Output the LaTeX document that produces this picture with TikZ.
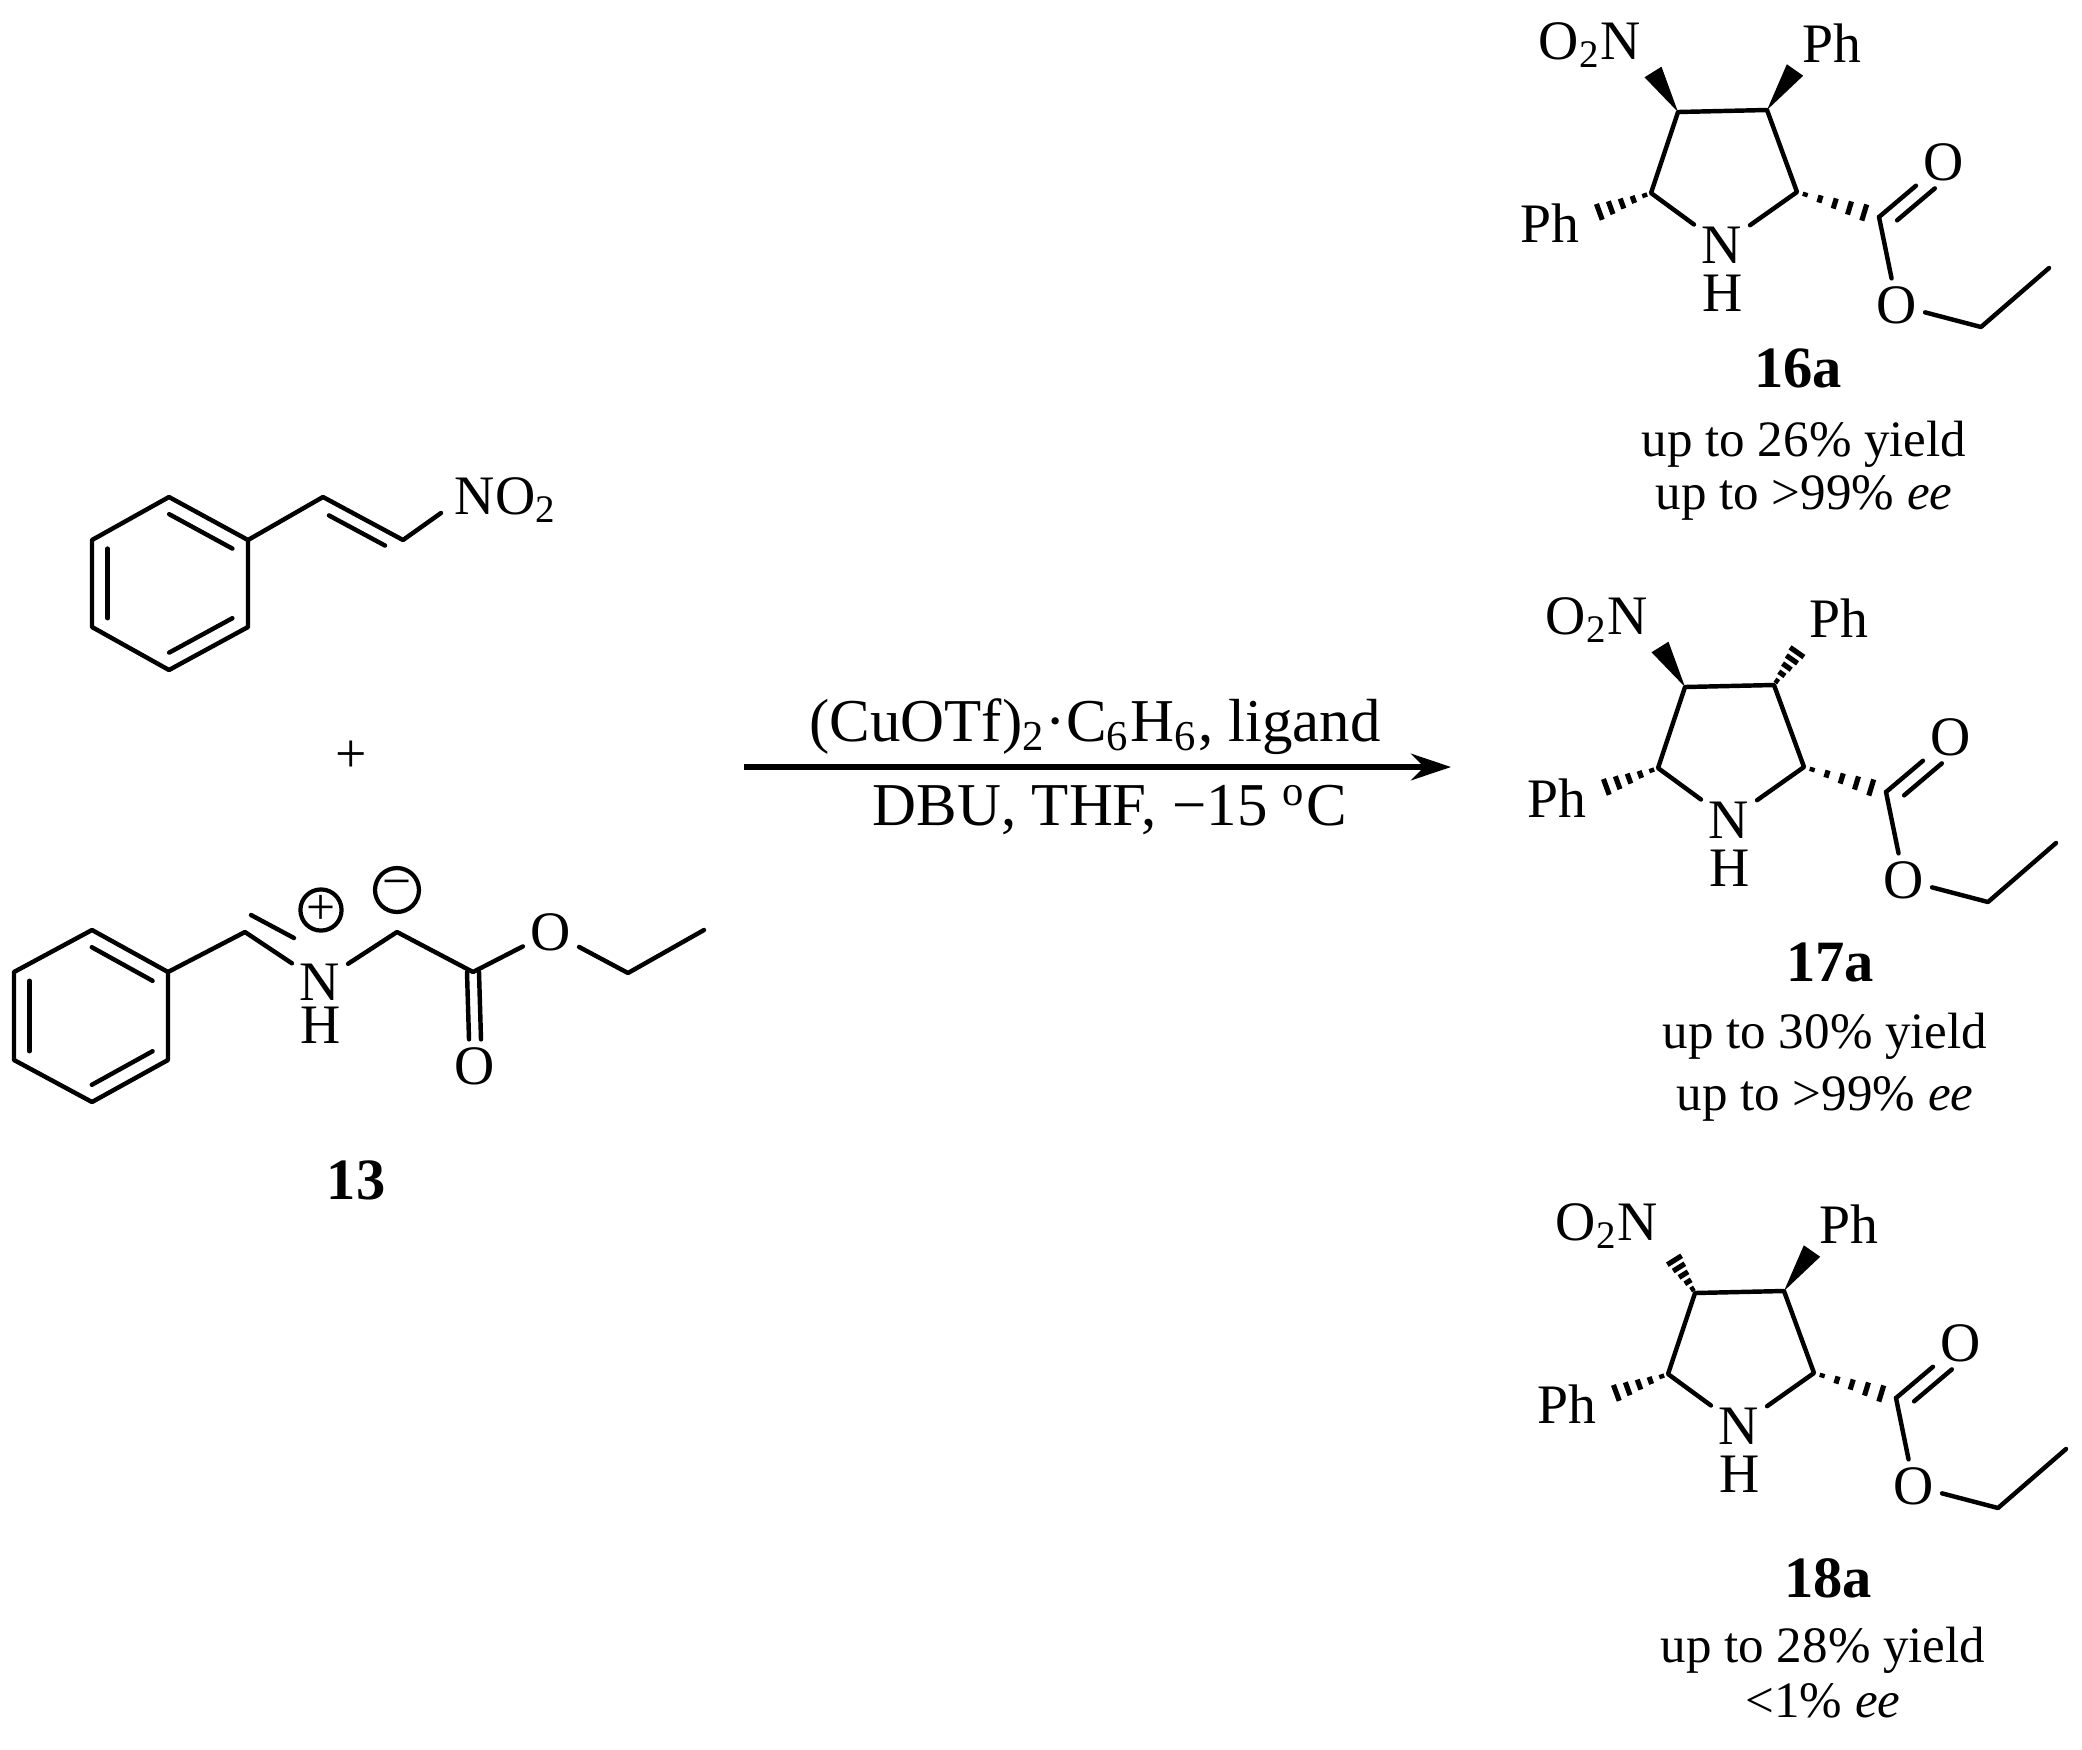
\documentclass[tikz,border=0pt]{standalone}
\usepackage{fontspec}
\setmainfont{Liberation Serif}
\usetikzlibrary{calc,arrows.meta}
\newcommand\wdg[2]{\fill (#1) -- ($(#2)!0.075cm!90:(#1)$) -- ($(#2)!0.075cm!-90:(#1)$) -- cycle;}
\newcommand\hsh[2]{\foreach \t in {0.1,0.28,0.46,0.64,0.82,1.0}{%
  \coordinate (hp) at ($(#1)!\t!(#2)$);
  \draw[line width=1.1pt] ($(hp)!{\t*0.065cm+0.01cm}!90:(#2)$) -- ($(hp)!{\t*0.065cm+0.01cm}!-90:(#2)$);}}
\newcommand\pyr[5]{%
 \begin{scope}[shift={#2}]
  \coordinate (#1c4) at (1678,112); \coordinate (#1c3) at (1767,110);
  \coordinate (#1c5) at (1651,193); \coordinate (#1c2) at (1797,192);
  \node[atom] (#1n) at (1722,245) {N};
  \node[atom] (#1h) at (1723,293) {H};
  \node[atom] (#1no) at (1590,45) {O\textsubscript{2}N};
  \coordinate (#1noe) at (1653,72);
  \node[atom] (#1ph3) at (1832,43) {Ph};
  \coordinate (#1ph3e) at (1795,70);
  \node[atom] (#1ph5) at (1550,223) {Ph};
  \coordinate (#1ph5e) at (1588,216);
  \coordinate (#1cc) at (1879,217);
  \node[atom] (#1o1) at (1944,162) {O};
  \node[atom] (#1o2) at (1897,305) {O};
  \coordinate (#1ch2) at (1981,327); \coordinate (#1ch3) at (2049,268);
  \draw[bond] (#1n) -- (#1c5) -- (#1c4) -- (#1c3) -- (#1c2) -- (#1n);
  #3{#1c4}{#1noe}
  #4{#1c3}{#1ph3e}
  \hsh{#1c5}{#1ph5e}
  \hsh{#1c2}{#1cc}
  \draw[bond] (#1cc) -- (#1o2) -- (#1ch2) -- (#1ch3);
  \draw[bond] (#1cc) -- (#1o1);
  \draw[bond] ($(#1cc)!0.14!(#1o1.center)+(9,11)$) -- ($(#1cc)!0.72!(#1o1.center)+(9,11)$);
  \node[lbl,font=\fontsize{12.5}{15}\selectfont\bfseries] (#1lab) at #5 {#1};
 \end{scope}}
\begin{document}
\begin{tikzpicture}[x=0.0075cm,y=-0.0075cm,
  bond/.style={line width=0.95pt,line cap=round,line join=round},
  atom/.style={inner sep=1.5pt,font=\fontsize{11.9}{14}\selectfont},
  lbl/.style={inner sep=0pt},
  txt/.style={inner sep=0pt,font=\fontsize{10.9}{13}\selectfont,align=center}]
\useasboundingbox (0,0) rectangle (2082,1749);
% nitrostyrene
\coordinate (a1) at (169,497); \coordinate (a2) at (248,540); \coordinate (a3) at (248,627);
\coordinate (a4) at (169,670); \coordinate (a5) at (92,627); \coordinate (a6) at (92,540);
\coordinate (ac) at (170,583);
\draw[bond] (a1)--(a2)--(a3)--(a4)--(a5)--(a6)--cycle;
\draw[bond] ($(ac)!0.8!(a1)$)--($(ac)!0.8!(a2)$);
\draw[bond] ($(ac)!0.8!(a3)$)--($(ac)!0.8!(a4)$);
\draw[bond] ($(ac)!0.8!(a5)$)--($(ac)!0.8!(a6)$);
\coordinate (v1) at (323,497); \coordinate (v2) at (403,540);
\node[atom] (no2) at (506,500) {NO\textsubscript{2}};
\coordinate (no2e) at (441,513);
\draw[bond] (a2)--(v1)--(v2)--(no2e);
\draw[bond] ($(v1)!0.15!(v2)+(-6,12)$)--($(v2)!0.15!(v1)+(-6,12)$);
% plus
\node[atom] (plus) at (351,757) {+};
% ylide 13
\coordinate (b1) at (92,930); \coordinate (b2) at (168,972); \coordinate (b3) at (168,1060);
\coordinate (b4) at (92,1102); \coordinate (b5) at (14,1060); \coordinate (b6) at (14,972);
\coordinate (bc) at (91,1016);
\draw[bond] (b1)--(b2)--(b3)--(b4)--(b5)--(b6)--cycle;
\draw[bond] ($(bc)!0.8!(b1)$)--($(bc)!0.8!(b2)$);
\draw[bond] ($(bc)!0.8!(b3)$)--($(bc)!0.8!(b4)$);
\draw[bond] ($(bc)!0.8!(b5)$)--($(bc)!0.8!(b6)$);
\coordinate (ch) at (245,932);
\node[atom] (yn) at (320,982) {N};
\node[atom] (yh) at (321,1025) {H};
\node[circle,draw,line width=0.9pt,inner sep=0pt,minimum size=0.3cm,font=\fontsize{11}{11}\selectfont] (pc) at (321,910) {+};
\node[circle,draw,line width=0.9pt,inner sep=0pt,minimum size=0.33cm,font=\fontsize{11}{11}\selectfont] (mc) at (397,890) {\raisebox{0.5pt}{−}};
\coordinate (ych2) at (397,932); \coordinate (ycc) at (473,972);
\node[atom] (yo1) at (475,1066) {O};
\node[atom] (yo2) at (551,932) {O};
\coordinate (ye1) at (628,973); \coordinate (ye2) at (704,930);
\coordinate (dbA) at (251,915); \coordinate (dbB) at (294,938);
\draw[bond] (b2)--(ch)--(yn);
\draw[bond] (dbA)--(dbB);
\draw[bond] (yn)--(ych2)--(ycc)--(yo2)--(ye1)--(ye2);
\draw[bond] ($(ycc)+(-6,0)$)--($(yo1.north)+(-6,0)$);
\draw[bond] ($(ycc)+(6,0)$)--($(yo1.north)+(6,0)$);
\node[lbl,font=\fontsize{12.5}{15}\selectfont\bfseries] (l13) at (356,1180) {13};
% arrow
\coordinate (ar1) at (744,767); \coordinate (ar2) at (1451,767);
\draw[line width=1.1pt,-{Stealth[length=0.3cm,width=0.2cm]}] (ar1)--(ar2);
\node[txt,font=\fontsize{13}{15}\selectfont] (cond1) at (1095,727) {(CuOTf)\textsubscript{2}·C\textsubscript{6}H\textsubscript{6}, ligand};
\node[txt,font=\fontsize{13}{15}\selectfont] (cond2) at (1110,810) {DBU, THF, −15 \textsuperscript{o}C};
% products
\pyr{16a}{(0,0)}{\wdg}{\wdg}{(1798,368)}
\pyr{17a}{(7,575)}{\wdg}{\hsh}{(1823,387)}
\pyr{18a}{(17,1181)}{\hsh}{\wdg}{(1811,397)}
\node[txt] (y16a) at (1804,444) {up to 26\% yield};
\node[txt] (e16a) at (1804,498) {up to >99\% \textit{ee}};
\node[txt] (y17a) at (1825,1036) {up to 30\% yield};
\node[txt] (e17a) at (1825,1099) {up to >99\% \textit{ee}};
\node[txt] (y18a) at (1823,1650) {up to 28\% yield};
\node[txt] (e18a) at (1823,1701) {<1\% \textit{ee}};
\end{tikzpicture}
\end{document}
